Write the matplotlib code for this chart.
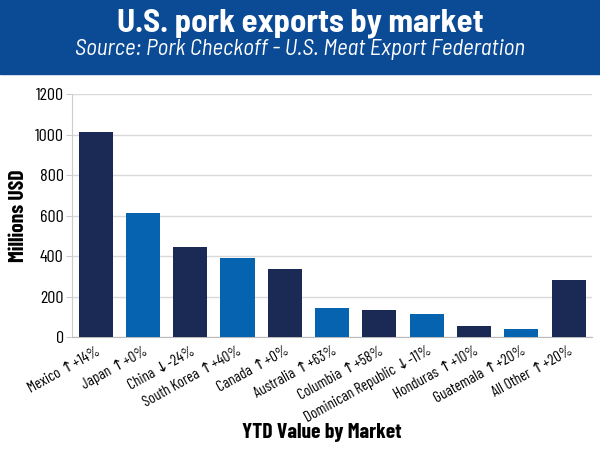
import matplotlib.pyplot as plt
from matplotlib.patches import Rectangle

# US pork exports, YTD value by market (millions USD)
markets = ['Mexico', 'Japan', 'China', 'South Korea', 'Canada', 'Australia',
           'Columbia', 'Dominican Republic', 'Honduras', 'Guatemala', 'All Other']
changes = ['↑+14%', '↑+0%', '↓-24%', '↑+40%', '↑+0%', '↑+63%',
           '↑+58%', '↓-11%', '↑+10%', '↑+20%', '↑+20%']
values = [1014, 614, 443, 392, 334, 142, 132, 115, 56, 41, 280]

labels = [f'{m} {c}' for m, c in zip(markets, changes)]

cond = ['Barlow Condensed', 'DejaVu Sans']
semi = ['Barlow Semi Condensed', 'DejaVu Sans']
plt.rcParams['font.family'] = cond

dark = '#1b2a55'
blue = '#0563b0'
colors = [dark if i % 2 == 0 else blue for i in range(len(values))]

fig = plt.figure(figsize=(6, 4.5), dpi=100)
ax = fig.add_axes([0.12, 0.251, 0.867, 0.54])

# header band
fig.patches.append(Rectangle((0, 0.836), 1, 0.164, transform=fig.transFigure,
                             color='#0b4a95', zorder=0))
fig.text(0.5, 0.948, 'U.S. pork exports by market', color='white', family=semi,
         fontsize=23.5, fontweight='bold', ha='center', va='center')
fig.text(0.5, 0.889, 'Source: Pork Checkoff - U.S. Meat Export Federation',
         color='white', family=semi, fontsize=16.5, style='italic',
         ha='center', va='center')

x = range(len(values))
ax.bar(x, values, width=0.72, color=colors, zorder=3)

ax.set_xlim(-0.5, 10.5)
ax.set_ylim(0, 1200)
ax.set_yticks(range(0, 1201, 200))
ax.tick_params(axis='y', labelsize=13, length=4, color='#cccccc', pad=2)
ax.set_xticks(list(x))
ax.set_xticklabels(labels, rotation=29, ha='right', rotation_mode='anchor',
                   fontsize=11)
ax.tick_params(axis='x', length=0, pad=5)

ax.grid(axis='y', color='#d9d9d9', linewidth=1, zorder=0)
for s in ['top', 'right']:
    ax.spines[s].set_visible(False)
ax.spines['left'].set_color('#cccccc')
ax.spines['bottom'].set_color('#bbbbbb')

ax.set_ylabel('Millions USD', fontsize=15.5, fontweight='bold', labelpad=5)
fig.text(0.537, 0.04, 'YTD Value by Market', fontsize=15.5, fontweight='bold',
         ha='center', va='center')

fig.savefig('out.png', dpi=100)
